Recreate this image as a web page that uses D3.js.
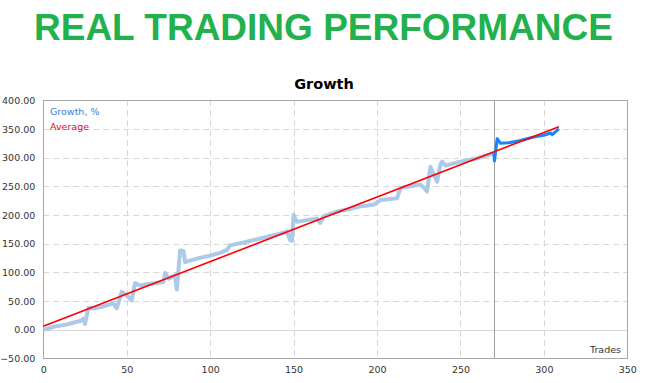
<!DOCTYPE html>
<html><head><meta charset="utf-8">
<script src="https://cdn.jsdelivr.net/npm/d3@7"></script>
<style>body{margin:0;background:#fff}svg{display:block}</style>
</head><body>
<svg id="c" width="647" height="383"></svg>
<script>
const title = "REAL TRADING PERFORMANCE";
const chartTitle = "Growth";
const legendLabels = ["Growth, %", "Average"];
const xTicks = [0, 50, 100, 150, 200, 250, 300, 350];
const yTicks = [-50, 0, 50, 100, 150, 200, 250, 300, 350, 400];
const splitTrade = 270;
const tradesHist = [0,3,6,10,14,18,23,24,25,27,30,35,40,42,44,47,50,53,55,58,62,67,72,73,75,79,80,82,84,85,90,95,100,106,110,112,120,130,140,146,148,149,150,152,158,164,166,168,176,183,190,198,202,208,212,214,220,226,228,230,232,234,236,238,239,241,250,260,266,270];
const growthHist = [0,2,5,7,9,12,16,19,10,38,37,40,44,46,37,66,60,51,81,77,79,81,83,99,89,95,70,138,137,118,122,126,129,134,139,147,152,159,166,171,156,155,200,188,191,194,186,198,206,210,215,218,226,228,229,247,250,253,248,241,284,270,258,288,293,286,293,299,304,308];
const tradesRecent = [270,270.4,272,274,279,286,294,300,304,305,309];
const growthRecent = [308,294,333,325,326,330,336,339,343,340,350];
const avgTrades = [0, 309];
const avgValues = [6, 354];

const svg = d3.select("#c");
const m = {l:43.3, r:627.3, t:100.3, b:358.3};
const x = d3.scaleLinear().domain([0,350]).range([m.l, m.r]);
const y = d3.scaleLinear().domain([-50,400]).range([m.b, m.t]);

svg.append("text").attr("x",323.5).attr("y",40).attr("text-anchor","middle")
  .attr("font-family","'Liberation Sans',Arial,sans-serif").attr("font-weight","bold")
  .attr("font-size",37).attr("fill","#22b14c").text(title);

svg.append("text").attr("x",324).attr("y",89).attr("text-anchor","middle")
  .attr("font-family","'DejaVu Sans',sans-serif").attr("font-weight","bold")
  .attr("font-size",14.5).attr("fill","#000").text(chartTitle);

const g = svg.append("g");
g.selectAll("line.hg").data(yTicks.filter(d=>d!==-50 && d!==400 && d!==0)).join("line")
  .attr("x1",m.l).attr("x2",m.r).attr("y1",d=>Math.round(y(d))+0.5).attr("y2",d=>Math.round(y(d))+0.5)
  .attr("stroke","#d6d6d6").attr("stroke-dasharray","6,4");
g.selectAll("line.vg").data(xTicks.filter(d=>d>0 && d<350)).join("line")
  .attr("y1",m.t).attr("y2",m.b).attr("x1",d=>Math.round(x(d))+0.5).attr("x2",d=>Math.round(x(d))+0.5)
  .attr("stroke","#d6d6d6").attr("stroke-dasharray","6,4");
g.append("line").attr("x1",m.l).attr("x2",m.r).attr("y1",Math.round(y(0))+0.5).attr("y2",Math.round(y(0))+0.5)
  .attr("stroke","#d8d8d8");
g.append("line").attr("y1",m.t).attr("y2",m.b).attr("x1",Math.round(x(splitTrade))+0.5).attr("x2",Math.round(x(splitTrade))+0.5)
  .attr("stroke","#a0a0a0");
g.append("rect").attr("x",Math.round(m.l)+0.5).attr("y",Math.round(m.t)+0.5)
  .attr("width",Math.round(m.r)-Math.round(m.l)).attr("height",Math.round(m.b)-Math.round(m.t))
  .attr("fill","none").attr("stroke","#a8a8a8");

const fmt = d3.format(".2f");
const yAxis = d3.axisLeft(y).tickValues(yTicks).tickFormat(fmt).tickSize(0).tickPadding(8);
const ya = svg.append("g").attr("transform",`translate(${m.l},0)`).call(yAxis);
ya.select(".domain").remove();
ya.selectAll("text").attr("font-family","'DejaVu Sans',sans-serif").attr("font-size",9.5).attr("fill","#333");
const xAxis = d3.axisBottom(x).tickValues(xTicks).tickFormat(d3.format("d")).tickSize(0).tickPadding(8);
const xa = svg.append("g").attr("transform",`translate(0,${m.b})`).call(xAxis);
xa.select(".domain").remove();
xa.selectAll("text").attr("font-family","'DejaVu Sans',sans-serif").attr("font-size",9.5).attr("fill","#333");

svg.append("text").attr("x",621).attr("y",353).attr("text-anchor","end")
  .attr("font-family","'DejaVu Sans',sans-serif").attr("font-size",9.5).attr("fill","#333").text("Trades");

const line = d3.line().x(d=>x(d[0])).y(d=>y(d[1]));
svg.append("path").datum(d3.zip(tradesHist, growthHist)).attr("d",line)
  .attr("fill","none").attr("stroke","#abc9e8").attr("stroke-width",4).attr("stroke-linejoin","round");
svg.append("path").datum(d3.zip(tradesRecent, growthRecent)).attr("d",line)
  .attr("fill","none").attr("stroke","#1a84ff").attr("stroke-width",3).attr("stroke-linejoin","round");
svg.append("path").datum(d3.zip(avgTrades, avgValues)).attr("d",line)
  .attr("fill","none").attr("stroke","#ff0000").attr("stroke-width",1.6);

svg.append("text").attr("x",50).attr("y",115).attr("font-family","'DejaVu Sans',sans-serif")
  .attr("font-size",9.5).attr("fill","#3a7fe0").text(legendLabels[0]);
svg.append("text").attr("x",50).attr("y",130).attr("font-family","'DejaVu Sans',sans-serif")
  .attr("font-size",9.5).attr("fill","#dd1111").text(legendLabels[1]);
</script>
</body></html>
